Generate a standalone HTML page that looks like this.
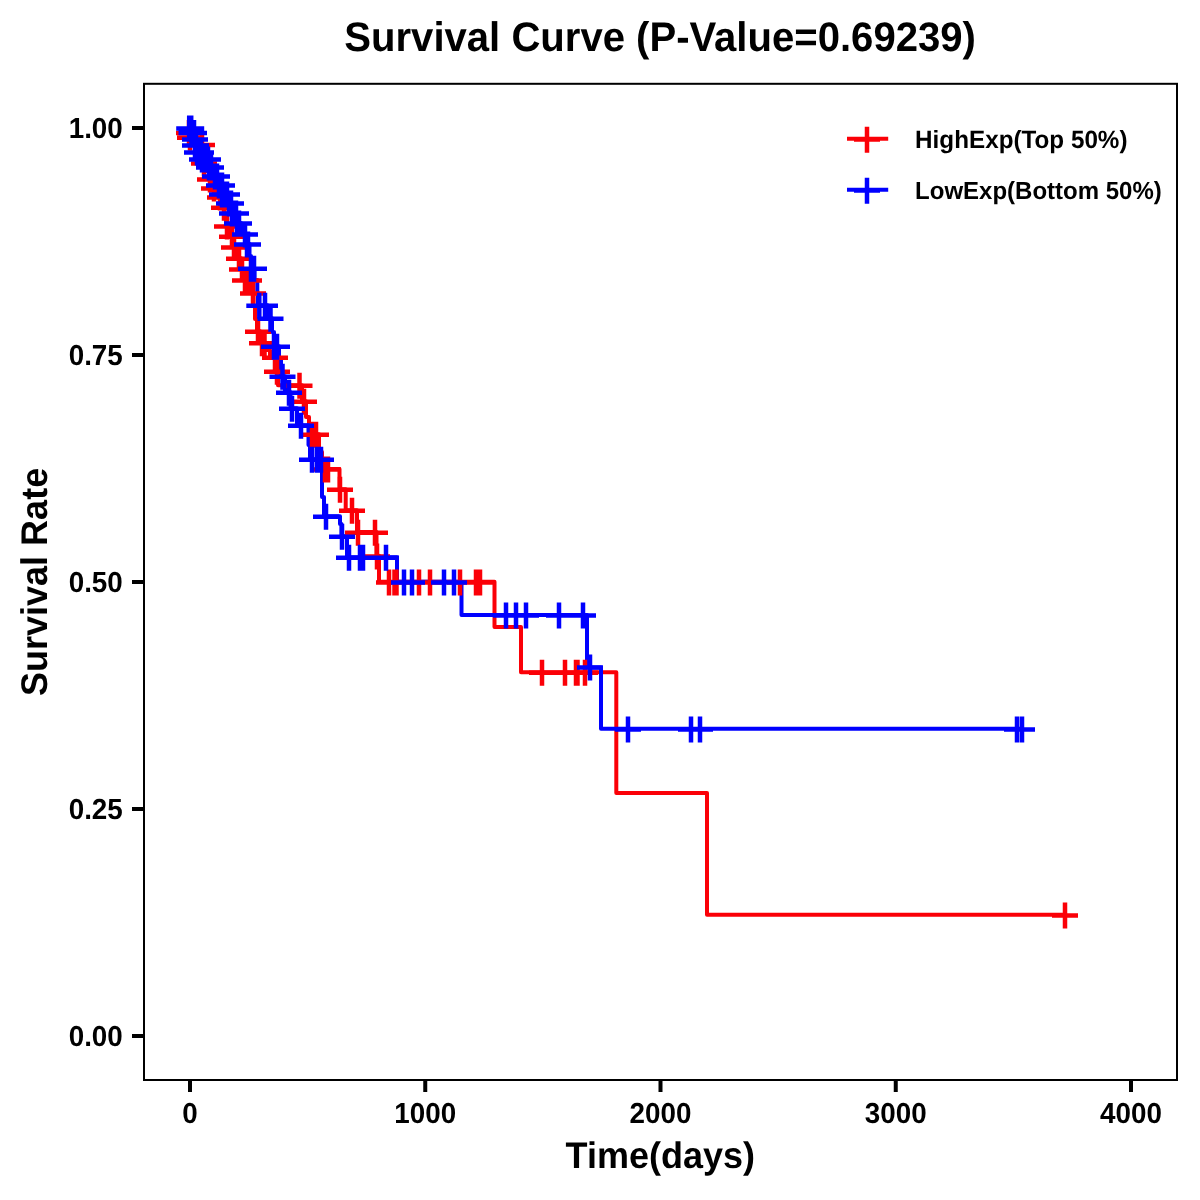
<!DOCTYPE html>
<html lang="en">
<head>
<meta charset="utf-8">
<title>Survival Curve (P-Value=0.69239)</title>
<style>
html,body{margin:0;padding:0;background:#fff;}
body{width:1200px;height:1200px;overflow:hidden;}
svg{display:block;}
text{font-family:"Liberation Sans",sans-serif;font-weight:bold;fill:#000;text-rendering:geometricPrecision;}
</style>
</head>
<body>
<svg width="1200" height="1200" viewBox="0 0 1200 1200">
<rect x="0" y="0" width="1200" height="1200" fill="#ffffff"/>
<text transform="translate(660.1,50.8) scale(1,1.03)" font-size="40.1" text-anchor="middle">Survival Curve (P-Value=0.69239)</text>
<text transform="translate(660.3,1168.2) scale(1,1.03)" font-size="36" text-anchor="middle">Time(days)</text>
<text transform="translate(47.2,581.9) rotate(-90) scale(1,1.03)" font-size="36" text-anchor="middle">Survival Rate</text>
<text transform="translate(122.8,138.1) scale(1,1.04)" font-size="27.8" text-anchor="end">1.00</text>
<text transform="translate(122.8,365.1) scale(1,1.04)" font-size="27.8" text-anchor="end">0.75</text>
<text transform="translate(122.8,592.1) scale(1,1.04)" font-size="27.8" text-anchor="end">0.50</text>
<text transform="translate(122.8,819.1) scale(1,1.04)" font-size="27.8" text-anchor="end">0.25</text>
<text transform="translate(122.8,1046.1) scale(1,1.04)" font-size="27.8" text-anchor="end">0.00</text>
<text transform="translate(190.00,1122.5) scale(1,1.04)" font-size="27.8" text-anchor="middle">0</text>
<text transform="translate(425.25,1122.5) scale(1,1.04)" font-size="27.8" text-anchor="middle">1000</text>
<text transform="translate(660.50,1122.5) scale(1,1.04)" font-size="27.8" text-anchor="middle">2000</text>
<text transform="translate(895.75,1122.5) scale(1,1.04)" font-size="27.8" text-anchor="middle">3000</text>
<text transform="translate(1131.00,1122.5) scale(1,1.04)" font-size="27.8" text-anchor="middle">4000</text>
<path d="M132,128H143M132,355H143M132,582H143M132,809H143M132,1036H143M190.00,1081V1092M425.25,1081V1092M660.50,1081V1092M895.75,1081V1092M1131.00,1081V1092" stroke="#000" stroke-width="4" fill="none"/>
<g fill="none" stroke-linejoin="round" stroke-linecap="butt">
<path d="M190.00,127.70 L190.30,127.70 L190.30,132.40 L190.60,132.40 L190.60,137.30 L193.00,137.30 L193.00,144.50 L197.00,144.50 L197.00,148.50 L202.50,148.50 L202.50,156.00 L203.50,156.00 L203.50,163.00 L206.00,163.00 L206.00,171.00 L209.00,171.00 L209.00,179.00 L213.00,179.00 L213.00,188.00 L218.00,188.00 L218.00,197.00 L222.00,197.00 L222.00,207.30 L224.50,207.30 L224.50,218.00 L226.00,218.00 L226.00,226.00 L230.00,226.00 L230.00,236.30 L233.00,236.30 L233.00,247.00 L237.00,247.00 L237.00,258.30 L241.00,258.30 L241.00,269.00 L244.00,269.00 L244.00,280.00 L251.00,280.00 L251.00,293.00 L253.50,293.00 L253.50,306.00 L255.00,306.00 L255.00,319.00 L257.00,319.00 L257.00,331.20 L260.00,331.20 L260.00,342.80 L266.00,342.80 L266.00,350.00 L270.00,350.00 L270.00,357.20 L275.50,357.20 L275.50,371.20 L278.00,371.20 L278.00,385.20 L302.00,385.20 L302.00,401.20 L306.00,401.20 L306.00,417.00 L309.00,417.00 L309.00,434.20 L319.00,434.20 L319.00,452.00 L322.00,452.00 L322.00,469.00 L339.50,469.00 L339.50,489.20 L345.70,489.20 L345.70,510.20 L357.00,510.20 L357.00,532.00 L376.50,532.00 L376.50,555.80 L379.00,555.80 L379.00,581.75 L494.50,581.75 L494.50,627.00 L521.00,627.00 L521.00,672.20 L616.30,672.20 L616.30,793.00 L707.00,793.00 L707.00,914.70 L1065.00,914.70" stroke="#fb0007" stroke-width="4.0"/>
<path d="M190.00,127.70 L191.50,127.70 L191.50,132.40 L194.50,132.40 L194.50,139.00 L195.50,139.00 L195.50,145.00 L197.00,145.00 L197.00,152.00 L202.00,152.00 L202.00,159.00 L208.50,159.00 L208.50,167.00 L213.00,167.00 L213.00,176.00 L218.00,176.00 L218.00,185.00 L222.50,185.00 L222.50,194.00 L228.00,194.00 L228.00,203.00 L232.00,203.00 L232.00,213.00 L236.50,213.00 L236.50,223.00 L241.00,223.00 L241.00,234.00 L246.00,234.00 L246.00,244.00 L249.50,244.00 L249.50,256.00 L251.00,256.00 L251.00,268.30 L254.50,268.30 L254.50,280.00 L257.30,280.00 L257.30,293.00 L258.00,293.00 L258.00,305.20 L267.50,305.20 L267.50,318.20 L272.00,318.20 L272.00,332.00 L274.00,332.00 L274.00,346.20 L279.00,346.20 L279.00,360.00 L281.00,360.00 L281.00,376.20 L285.00,376.20 L285.00,392.20 L290.50,392.20 L290.50,408.20 L297.00,408.20 L297.00,425.20 L308.50,425.20 L308.50,445.00 L310.00,445.00 L310.00,459.20 L322.00,459.20 L322.00,497.00 L324.00,497.00 L324.00,516.30 L340.00,516.30 L340.00,524.00 L341.50,524.00 L341.50,536.30 L347.00,536.30 L347.00,557.30 L397.00,557.30 L397.00,581.75 L461.50,581.75 L461.50,615.00 L587.00,615.00 L587.00,667.50 L601.00,667.50 L601.00,728.75 L1022.00,728.75" stroke="#0000ff" stroke-width="4.0"/>
<path d="M176.00,133.00H202.00M189.00,120.00V146.00M177.00,137.80H203.00M190.00,124.80V150.80M189.00,145.00H215.00M202.00,132.00V158.00M191.00,163.50H217.00M204.00,150.50V176.50M197.00,179.50H223.00M210.00,166.50V192.50M201.00,188.50H227.00M214.00,175.50V201.50M207.00,197.50H233.00M220.00,184.50V210.50M211.00,207.80H237.00M224.00,194.80V220.80M214.00,226.50H240.00M227.00,213.50V239.50M219.00,236.80H245.00M232.00,223.80V249.80M221.00,247.50H247.00M234.00,234.50V260.50M226.00,258.80H252.00M239.00,245.80V271.80M229.00,269.50H255.00M242.00,256.50V282.50M232.00,280.50H258.00M245.00,267.50V293.50M236.00,280.50H262.00M249.00,267.50V293.50M240.00,293.50H266.00M253.00,280.50V306.50M245.00,331.70H271.00M258.00,318.70V344.70M249.00,343.30H275.00M262.00,330.30V356.30M251.50,343.30H277.50M264.50,330.30V356.30M262.00,357.70H288.00M275.00,344.70V370.70M264.00,371.70H290.00M277.00,358.70V384.70M286.50,385.70H312.50M299.50,372.70V398.70M291.00,401.70H317.00M304.00,388.70V414.70M299.00,434.70H325.00M312.00,421.70V447.70M303.00,434.70H329.00M316.00,421.70V447.70M312.00,469.50H338.00M325.00,456.50V482.50M315.00,469.50H341.00M328.00,456.50V482.50M327.00,489.70H353.00M340.00,476.70V502.70M339.00,510.70H365.00M352.00,497.70V523.70M345.00,532.70H371.00M358.00,519.70V545.70M362.00,532.70H388.00M375.00,519.70V545.70M364.00,556.50H390.00M377.00,543.50V569.50M376.00,582.50H402.00M389.00,569.50V595.50M381.50,582.50H407.50M394.50,569.50V595.50M383.50,582.50H409.50M396.50,569.50V595.50M406.00,582.50H432.00M419.00,569.50V595.50M417.00,582.50H443.00M430.00,569.50V595.50M447.00,582.50H473.00M460.00,569.50V595.50M463.00,582.50H489.00M476.00,569.50V595.50M467.00,582.50H493.00M480.00,569.50V595.50M529.00,672.70H555.00M542.00,659.70V685.70M552.00,672.70H578.00M565.00,659.70V685.70M563.00,672.70H589.00M576.00,659.70V685.70M564.50,672.70H590.50M577.50,659.70V685.70M572.00,672.70H598.00M585.00,659.70V685.70M1052.00,915.50H1078.00M1065.00,902.50V928.50" stroke="#fb0007" stroke-width="4.5" fill="none"/>
<path d="M176.20,128.50H202.20M189.20,115.50V141.50M178.20,128.50H204.20M191.20,115.50V141.50M178.50,133.00H204.50M191.50,120.00V146.00M181.00,133.00H207.00M194.00,120.00V146.00M182.00,139.50H208.00M195.00,126.50V152.50M182.00,145.50H208.00M195.00,132.50V158.50M183.00,145.50H209.00M196.00,132.50V158.50M184.00,152.50H210.00M197.00,139.50V165.50M186.00,152.50H212.00M199.00,139.50V165.50M188.00,152.50H214.00M201.00,139.50V165.50M189.00,159.50H215.00M202.00,146.50V172.50M192.00,159.50H218.00M205.00,146.50V172.50M195.00,159.50H221.00M208.00,146.50V172.50M196.00,167.50H222.00M209.00,154.50V180.50M198.00,167.50H224.00M211.00,154.50V180.50M202.00,176.50H228.00M215.00,163.50V189.50M204.00,176.50H230.00M217.00,163.50V189.50M206.00,185.50H232.00M219.00,172.50V198.50M209.00,185.50H235.00M222.00,172.50V198.50M209.00,194.50H235.00M222.00,181.50V207.50M211.50,194.50H237.50M224.50,181.50V207.50M214.00,194.50H240.00M227.00,181.50V207.50M216.00,203.50H242.00M229.00,190.50V216.50M218.00,203.50H244.00M231.00,190.50V216.50M219.00,213.50H245.00M232.00,200.50V226.50M221.00,213.50H247.00M234.00,200.50V226.50M223.00,213.50H249.00M236.00,200.50V226.50M224.00,223.50H250.00M237.00,210.50V236.50M226.00,223.50H252.00M239.00,210.50V236.50M232.00,234.50H258.00M245.00,221.50V247.50M234.00,244.50H260.00M247.00,231.50V257.50M235.00,244.50H261.00M248.00,231.50V257.50M238.00,268.80H264.00M251.00,255.80V281.80M241.00,268.80H267.00M254.00,255.80V281.80M246.30,305.70H272.30M259.30,292.70V318.70M252.00,305.70H278.00M265.00,292.70V318.70M257.50,318.70H283.50M270.50,305.70V331.70M261.00,346.70H287.00M274.00,333.70V359.70M264.00,346.70H290.00M277.00,333.70V359.70M269.50,376.70H295.50M282.50,363.70V389.70M276.00,392.70H302.00M289.00,379.70V405.70M279.00,408.70H305.00M292.00,395.70V421.70M288.00,425.70H314.00M301.00,412.70V438.70M299.00,459.70H325.00M312.00,446.70V472.70M304.00,459.70H330.00M317.00,446.70V472.70M308.00,459.70H334.00M321.00,446.70V472.70M313.00,516.70H339.00M326.00,503.70V529.70M329.00,536.70H355.00M342.00,523.70V549.70M336.00,557.70H362.00M349.00,544.70V570.70M347.00,557.70H373.00M360.00,544.70V570.70M350.00,557.70H376.00M363.00,544.70V570.70M373.00,557.70H399.00M386.00,544.70V570.70M391.00,582.50H417.00M404.00,569.50V595.50M399.00,582.50H425.00M412.00,569.50V595.50M431.00,582.50H457.00M444.00,569.50V595.50M441.00,582.50H467.00M454.00,569.50V595.50M493.00,615.60H519.00M506.00,602.60V628.60M503.00,615.60H529.00M516.00,602.60V628.60M513.00,615.60H539.00M526.00,602.60V628.60M546.00,615.60H572.00M559.00,602.60V628.60M570.00,615.60H596.00M583.00,602.60V628.60M577.00,667.60H603.00M590.00,654.60V680.60M615.00,729.60H641.00M628.00,716.60V742.60M678.00,729.60H704.00M691.00,716.60V742.60M687.00,729.60H713.00M700.00,716.60V742.60M1004.00,729.60H1030.00M1017.00,716.60V742.60M1009.00,729.60H1035.00M1022.00,716.60V742.60" stroke="#0000ff" stroke-width="4.5" fill="none"/>
</g>
<rect x="144" y="83.8" width="1033" height="996.2" fill="none" stroke="#000" stroke-width="2"/>
<g fill="none">
<path d="M847,138.7H888.2" stroke="#fb0007" stroke-width="4.0"/><path d="M854,139.6H880M867,126.69999999999999V152.7" stroke="#fb0007" stroke-width="4.5"/>
<path d="M847,189.7H888.2" stroke="#0000ff" stroke-width="4.0"/><path d="M854,190.6H880M867,177.7V203.7" stroke="#0000ff" stroke-width="4.5"/>
</g>
<text transform="translate(915.1,148) scale(1,1.03)" font-size="24.25">HighExp(Top 50%)</text>
<text transform="translate(915.1,199) scale(1,1.03)" font-size="24.0">LowExp(Bottom 50%)</text>
</svg>
</body>
</html>
